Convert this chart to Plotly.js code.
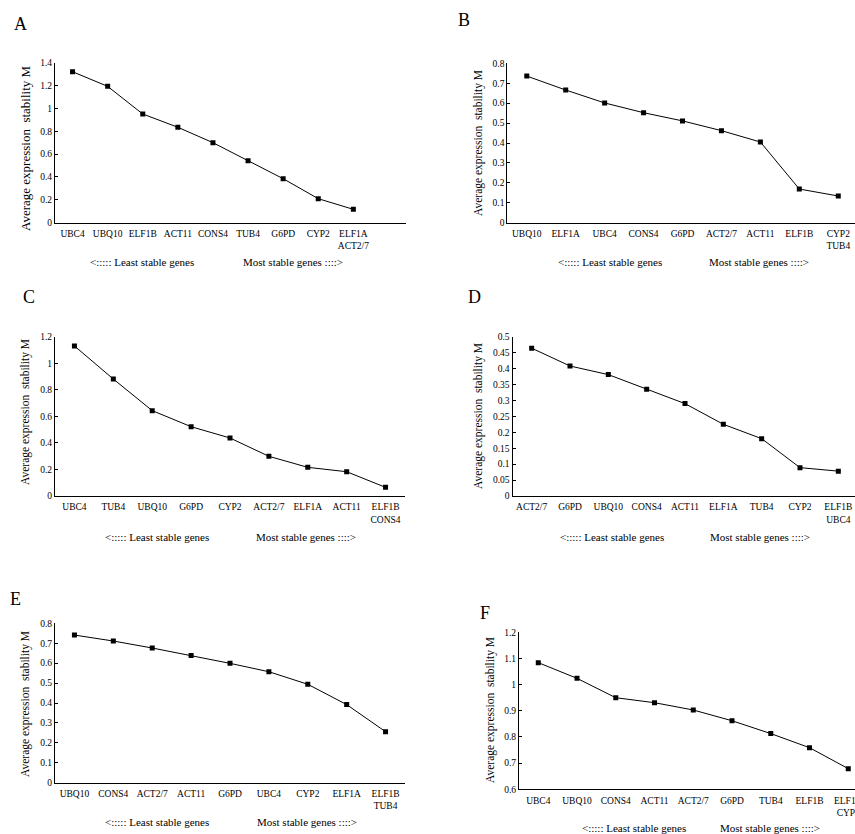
<!DOCTYPE html>
<html>
<head>
<meta charset="utf-8">
<script src="https://cdn.plot.ly/plotly-3.0.1.min.js"></script>
<style>html,body{margin:0;padding:0;background:#fff;}#chart{width:855px;height:834px;}</style>
</head>
<body>
<div id="chart"></div>
<script>
// ---- Data ----
const genesA = ["UBC4","UBQ10","ELF1B","ACT11","CONS4","TUB4","G6PD","CYP2","ELF1A<br>ACT2/7"];
const valuesA = [1.321,1.193,0.951,0.835,0.700,0.542,0.385,0.210,0.117];

const genesB = ["UBQ10","ELF1A","UBC4","CONS4","G6PD","ACT2/7","ACT11","ELF1B","CYP2<br>TUB4"];
const valuesB = [0.736,0.666,0.601,0.552,0.511,0.462,0.405,0.169,0.134];

const genesC = ["UBC4","TUB4","UBQ10","G6PD","CYP2","ACT2/7","ELF1A","ACT11","ELF1B<br>CONS4"];
const valuesC = [1.130,0.881,0.643,0.522,0.437,0.299,0.216,0.183,0.065];

const genesD = ["ACT2/7","G6PD","UBQ10","CONS4","ACT11","ELF1A","TUB4","CYP2","ELF1B<br>UBC4"];
const valuesD = [0.464,0.408,0.381,0.335,0.290,0.225,0.180,0.089,0.078];

const genesE = ["UBQ10","CONS4","ACT2/7","ACT11","G6PD","UBC4","CYP2","ELF1A","ELF1B<br>TUB4"];
const valuesE = [0.741,0.711,0.676,0.638,0.599,0.557,0.494,0.392,0.256];

const genesF = ["UBC4","UBQ10","CONS4","ACT11","ACT2/7","G6PD","TUB4","ELF1B","ELF1A<br>CYP2"];
const valuesF = [1.084,1.024,0.950,0.931,0.903,0.862,0.813,0.759,0.679];

const panelLabels = ["A","B","C","D","E","F"];
const yTitle = "Average expression  stability M";
const leastText = "<::::: Least stable genes";
const mostText = "Most stable genes ::::>";

// ---- Layout helpers ----
const W = 855, H = 834;
const fx = p => p / W;
const fy = p => 1 - p / H;
const FONT = "'Liberation Serif', 'Times New Roman', Times, serif";

const panels = [
  {g: genesA, v: valuesA, xd: [55, 406],   yd: [62.7, 222.7], xr: [-0.5, 9.5],   yr: [0, 1.4], dt: 0.2,
   lab: [20.5, 24], yt: [25, 148, 13], bt: [141.5, 292.5, 262]},
  {g: genesB, v: valuesB, xd: [507.3, 855], yd: [63.3, 222.7], xr: [-0.5, 8.43],  yr: [0, 0.8], dt: 0.1,
   lab: [464, 20.5], yt: [478, 143, 11.5], bt: [610, 759, 262]},
  {g: genesC, v: valuesC, xd: [55, 405],   yd: [336.7, 496],  xr: [-0.5, 8.5],   yr: [0, 1.2], dt: 0.2,
   lab: [28.5, 296.5], yt: [25, 412, 11.5], bt: [156.5, 306, 537]},
  {g: genesD, v: valuesD, xd: [512.5, 855], yd: [336.7, 496], xr: [-0.5, 8.435], yr: [0, 0.5], dt: 0.05,
   lab: [474.5, 296.5], yt: [478, 416, 11.5], bt: [611.5, 760, 537]},
  {g: genesE, v: valuesE, xd: [55, 405],   yd: [623.3, 782.7], xr: [-0.5, 8.5],  yr: [0, 0.8], dt: 0.1,
   lab: [15.5, 598.5], yt: [25, 704, 11.5], bt: [156.5, 306.5, 822]},
  {g: genesF, v: valuesF, xd: [518.9, 855], yd: [632.3, 789.3], xr: [-0.5, 8.174], yr: [0.6, 1.2], dt: 0.1,
   lab: [485, 612.5], yt: [490, 710, 11.5], bt: [634, 769.5, 828]}
];

const traces = [];
const layout = {
  width: W, height: H,
  margin: {l: 0, r: 0, t: 0, b: 0},
  paper_bgcolor: "#ffffff",
  plot_bgcolor: "rgba(0,0,0,0)",
  showlegend: false,
  font: {family: FONT, color: "#000"},
  annotations: []
};

panels.forEach((p, i) => {
  const n = i === 0 ? "" : String(i + 1);
  traces.push({
    type: "scatter", mode: "lines+markers",
    x: p.g, y: p.v,
    xaxis: "x" + n, yaxis: "y" + n,
    line: {color: "#000", width: 1},
    marker: {symbol: "square", size: 5, color: "#000"},
    hoverinfo: "skip"
  });
  layout["xaxis" + n] = {
    domain: [fx(p.xd[0]), fx(p.xd[1])],
    anchor: "y" + n,
    type: "category",
    range: p.xr,
    showline: true, linecolor: "#000", linewidth: 1,
    showgrid: false, zeroline: false, ticks: "",
    tickfont: {family: FONT, size: 9.5, color: "#000"},
    ticklabelstandoff: 2,
    fixedrange: true
  };
  layout["yaxis" + n] = {
    domain: [fy(p.yd[1]), fy(p.yd[0])],
    anchor: "x" + n,
    range: p.yr, dtick: p.dt, tick0: 0,
    showline: true, linecolor: "#000", linewidth: 1,
    showgrid: false, zeroline: false,
    ticks: "inside", ticklen: 3, tickcolor: "#000",
    tickfont: {family: FONT, size: 9.5, color: "#000"},
    fixedrange: true
  };
  layout.annotations.push(
    {text: panelLabels[i], xref: "paper", yref: "paper", x: fx(p.lab[0]), y: fy(p.lab[1]),
     xanchor: "center", yanchor: "middle", showarrow: false, font: {family: FONT, size: 18, color: "#000"}},
    {text: yTitle, xref: "paper", yref: "paper", x: fx(p.yt[0]), y: fy(p.yt[1]), textangle: -90,
     xanchor: "center", yanchor: "middle", showarrow: false, font: {family: FONT, size: p.yt[2], color: "#000"}},
    {text: leastText.replace("<", "&lt;"), xref: "paper", yref: "paper", x: fx(p.bt[0]), y: fy(p.bt[2]),
     xanchor: "center", yanchor: "middle", showarrow: false, font: {family: FONT, size: 11, color: "#000"}},
    {text: mostText.replace(">", "&gt;"), xref: "paper", yref: "paper", x: fx(p.bt[1]), y: fy(p.bt[2]),
     xanchor: "center", yanchor: "middle", showarrow: false, font: {family: FONT, size: 11, color: "#000"}}
  );
});

Plotly.newPlot("chart", traces, layout, {displayModeBar: false, staticPlot: true});
</script>
</body>
</html>
